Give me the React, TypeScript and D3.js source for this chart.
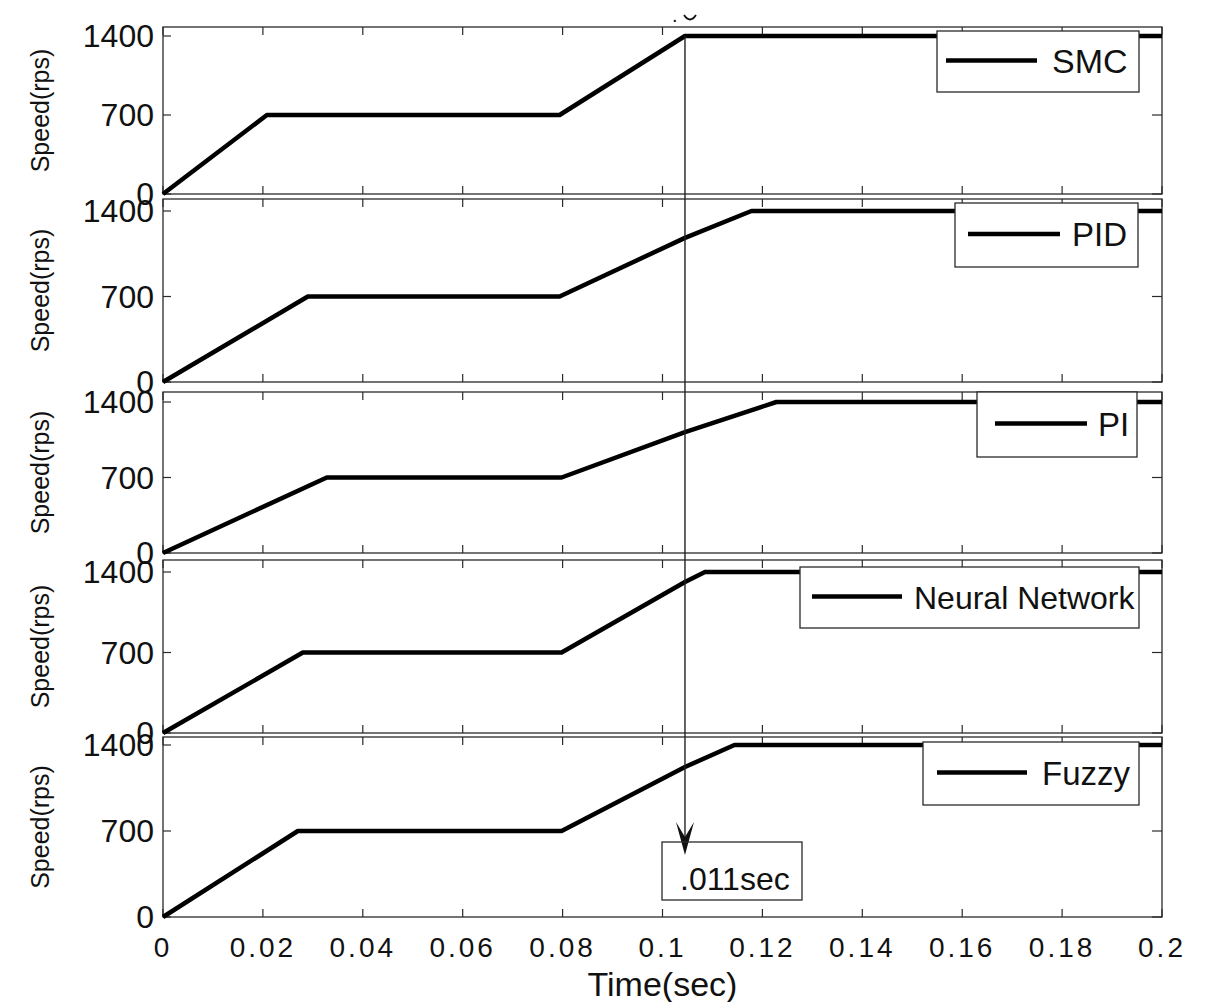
import React from "react";
import * as d3 from "d3";

const seriesNames = ["SMC", "PID", "PI", "Neural Network", "Fuzzy"];
const smcT = [0, 0.0208, 0.0794, 0.1045, 0.2];
const smcV = [0, 700, 700, 1400, 1400];
const pidT = [0, 0.029, 0.0794, 0.1045, 0.1178, 0.2];
const pidV = [0, 700, 700, 1180, 1400, 1400];
const piT = [0, 0.0328, 0.0798, 0.1045, 0.1228, 0.2];
const piV = [0, 700, 700, 1120, 1400, 1400];
const nnT = [0, 0.028, 0.0798, 0.1045, 0.1085, 0.2];
const nnV = [0, 700, 700, 1313, 1400, 1400];
const fuzzyT = [0, 0.027, 0.0798, 0.1045, 0.1144, 0.2];
const fuzzyV = [0, 700, 700, 1221, 1400, 1400];
const xTicks = [0, 0.02, 0.04, 0.06, 0.08, 0.1, 0.12, 0.14, 0.16, 0.18, 0.2];
const xTickLabels = ["0", "0.02", "0.04", "0.06", "0.08", "0.1", "0.12", "0.14", "0.16", "0.18", "0.2"];
const yTicks = [0, 700, 1400];
const annotationT = 0.1045;
const annotationText = ".011sec";

const seriesT = [smcT, pidT, piT, nnT, fuzzyT];
const seriesV = [smcV, pidV, piV, nnV, fuzzyV];

// layout
const panelTops = [27, 199, 392, 560, 737];
const panelBottoms = [194, 382, 553, 733, 917];
const y1400 = [36, 211, 402, 572, 745];
const legends = [
  { x: 937, y: 31, w: 202, h: 61, l0: 946, l1: 1037, tx: 1052, fs: 34 },
  { x: 955, y: 203, w: 183, h: 64, l0: 968, l1: 1060, tx: 1072, fs: 33 },
  { x: 977, y: 392, w: 160, h: 65, l0: 995, l1: 1087, tx: 1098, fs: 33 },
  { x: 800, y: 567, w: 339, h: 61, l0: 812, l1: 902, tx: 914, fs: 32 },
  { x: 923, y: 742, w: 216, h: 63, l0: 937, l1: 1027, tx: 1042, fs: 33 },
];

const FONT = "'Liberation Sans', Arial, sans-serif";
const FRAME = "#2a2a2a";

export default function App() {
  const x = d3.scaleLinear().domain([0, 0.2]).range([163, 1162]);
  return (
    <svg width={1214} height={1002} style={{ position: "absolute", left: 0, top: 0, background: "#fff" }}>
      <rect x={0} y={0} width={1214} height={1002} fill="#fff" />
      {seriesNames.map((name, i) => {
        const top = panelTops[i];
        const bottom = panelBottoms[i];
        const y = d3.scaleLinear().domain([0, 1400]).range([bottom, y1400[i]]);
        const pts: [number, number][] = seriesT[i].map((t, k) => [t, seriesV[i][k]]);
        const line = d3.line<[number, number]>().x((d) => x(d[0])).y((d) => y(d[1]));
        const lg = legends[i];
        const cy = (top + bottom) / 2;
        return (
          <g key={name}>
            <rect x={x(0)} y={top} width={x(0.2) - x(0)} height={bottom - top} fill="none" stroke={FRAME} strokeWidth={1.3} />
            {xTicks.map((t) => (
              <g key={t}>
                <line x1={x(t)} x2={x(t)} y1={top} y2={top + 8} stroke={FRAME} strokeWidth={1.2} />
                <line x1={x(t)} x2={x(t)} y1={bottom} y2={bottom - 8} stroke={FRAME} strokeWidth={1.2} />
              </g>
            ))}
            {yTicks.map((v) => (
              <g key={v}>
                <line x1={x(0)} x2={x(0) + 8} y1={y(v)} y2={y(v)} stroke={FRAME} strokeWidth={1.2} />
                <line x1={x(0.2)} x2={x(0.2) - 10} y1={y(v)} y2={y(v)} stroke={FRAME} strokeWidth={1.2} />
                <text x={154} y={y(v) + 11} textAnchor="end" fontFamily={FONT} fontSize={32} fill="#111">
                  {v}
                </text>
              </g>
            ))}
            <text
              transform={`translate(${49},${cy}) rotate(-90)`}
              textAnchor="middle"
              fontFamily={FONT}
              fontSize={25}
              fill="#111"
            >
              Speed(rps)
            </text>
            <path d={line(pts) || ""} fill="none" stroke="#000" strokeWidth={4.5} strokeLinejoin="round" />
            <rect x={lg.x} y={lg.y} width={lg.w} height={lg.h} fill="#fff" stroke={FRAME} strokeWidth={1.3} />
            <line x1={lg.l0} x2={lg.l1} y1={lg.y + lg.h / 2 - 1} y2={lg.y + lg.h / 2 - 1} stroke="#000" strokeWidth={4.5} />
            <text x={lg.tx} y={lg.y + lg.h / 2 + 11} fontFamily={FONT} fontSize={lg.fs} fill="#111">
              {name}
            </text>
          </g>
        );
      })}
      {xTicks.map((t, k) => (
        <text key={t} x={x(t)} y={957} textAnchor="middle" fontFamily={FONT} fontSize={28} letterSpacing={3} fill="#111">
          {xTickLabels[k]}
        </text>
      ))}
      <text x={x(0.1)} y={996} textAnchor="middle" fontFamily={FONT} fontSize={34} fill="#111">
        Time(sec)
      </text>
      <line x1={x(annotationT)} x2={x(annotationT)} y1={36} y2={845} stroke="#222" strokeWidth={1.4} />
      <path
        d={`M${x(annotationT)},855 L${x(annotationT) - 9},822 L${x(annotationT)},837 L${x(annotationT) + 9},822 Z`}
        fill="#111"
      />
      <rect x={662} y={842} width={140} height={58} fill="none" stroke={FRAME} strokeWidth={1.3} />
      <text x={680} y={890} fontFamily={FONT} fontSize={32} fill="#111">
        {annotationText}
      </text>
      <text x={672} y={22} fontFamily={FONT} fontSize={20} fill="#111">.</text>
      <path d="M684,15 Q690,24 696,15" fill="none" stroke="#111" strokeWidth={1.8} />
    </svg>
  );
}
